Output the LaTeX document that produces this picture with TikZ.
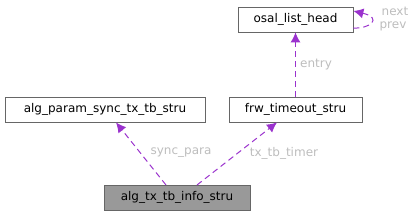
\documentclass[tikz,border=0pt]{standalone}
\usepackage{fontspec}
\setmainfont{DejaVu Sans}
\usetikzlibrary{arrows.meta}
\definecolor{edgec}{HTML}{9A32CD}
\definecolor{labc}{HTML}{BDBDBD}
\definecolor{boxc}{HTML}{666666}
\definecolor{fillc}{HTML}{999999}
\begin{document}
\begin{tikzpicture}[x=1pt,y=-1pt,
  box/.style={draw=boxc, line width=0.8pt, minimum height=25pt, inner sep=0pt, font=\fontsize{12}{14}\selectfont, text=black},
  rel/.style={draw=edgec, line width=1pt, dash pattern=on 6pt off 4pt, -{Latex[length=10pt,width=10pt]}},
  lab/.style={text=labc, font=\fontsize{12}{14}\selectfont, inner sep=0pt}]
\useasboundingbox (0,0) rectangle (416,216);
\node[box, minimum width=115pt] (osal) at (295.5,19.5) {osal\_list\_head};
\node[box, minimum width=200pt] (param) at (105,109.5) {alg\_param\_sync\_tx\_tb\_stru};
\node[box, minimum width=133pt] (frw) at (295.5,109.5) {frw\_timeout\_stru};
\node[box, minimum width=146pt, fill=fillc] (info) at (177,197.5) {alg\_tx\_tb\_info\_stru};
\coordinate (a1) at (166,185);
\coordinate (a2) at (197,185);
\draw[rel] (a1) -- (param.south -| 116,0);
\draw[rel] (a2) -- (frw.south -| 277,0);
\draw[rel] (frw.north) -- (osal.south);
\draw[rel] ([yshift=-8.5pt]osal.east) .. controls (370,29) and (383,18) .. ([yshift=8.5pt]osal.east);
\node[lab] at (181,153) {sync\_para};
\node[lab] at (284,153) {tx\_tb\_timer};
\node[lab] at (316,65) {entry};
\node[lab] at (395,11.5) {next};
\node[lab] at (393,26.5) {prev};
\end{tikzpicture}
\end{document}
